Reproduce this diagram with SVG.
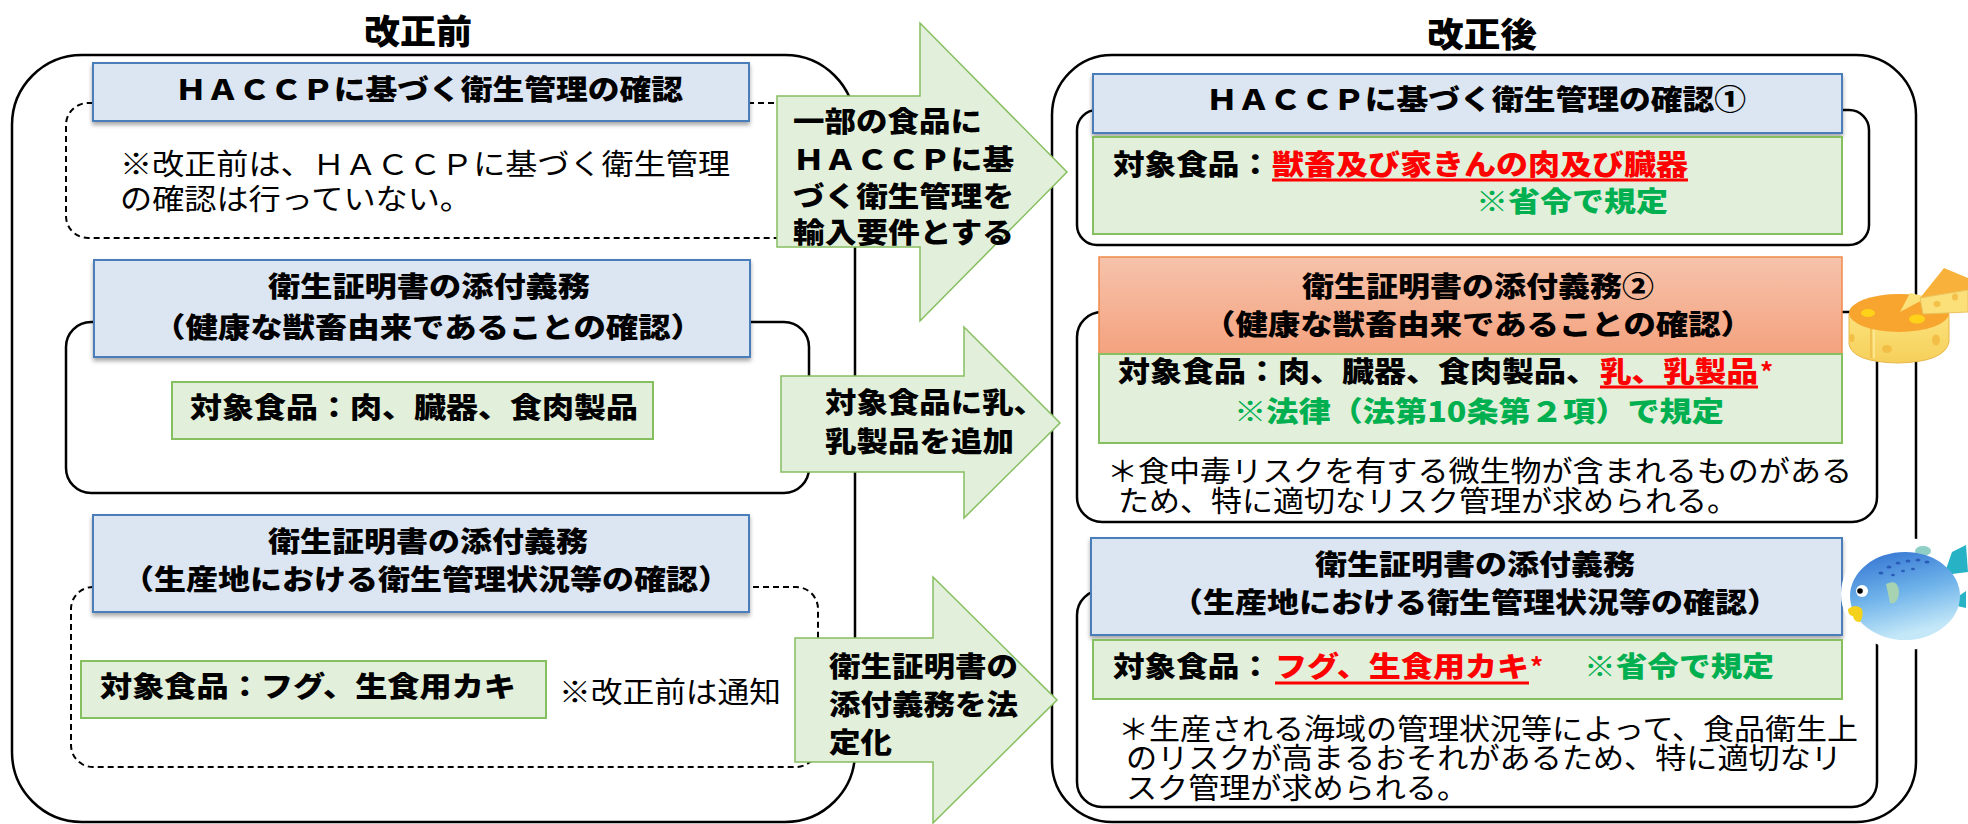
<svg xmlns="http://www.w3.org/2000/svg" width="1968" height="824" viewBox="0 0 1968 824">
  <style>
    text { font-family: "Noto Sans CJK JP", "Noto Sans", sans-serif; fill: #000; }
    .b { font-weight: 900; font-size: 28px; }
    .n { font-weight: 400; font-size: 29px; }
    .title { font-weight: 900; font-size: 34px; }
    .red { fill: #FF0000; }
    .grn { fill: #00B050; }
    .frame { fill: none; stroke: #000; stroke-width: 2.5; }
    .dash { fill: none; stroke: #000; stroke-width: 2; stroke-dasharray: 6 4; }
    .blue { fill: #DCE6F2; stroke: #4A7EBB; stroke-width: 2; filter: url(#shadow); }
    .green { fill: #E2EFDA; stroke: #86BF60; stroke-width: 2; }
    .arrow { fill: #E2EFDA; stroke: #86BF60; stroke-width: 1.5; }
    .uline { stroke: #FF0000; stroke-width: 3; }
  </style>
  <defs>
    <filter id="shadow" x="-5%" y="-20%" width="110%" height="150%">
      <feDropShadow dx="0" dy="3" stdDeviation="2" flood-color="#000" flood-opacity="0.35"/>
    </filter>
    <linearGradient id="orangeFill" x1="0" y1="0" x2="0" y2="1">
      <stop offset="0" stop-color="#F6C3AB"/>
      <stop offset="1" stop-color="#F4A27E"/>
    </linearGradient>
    <linearGradient id="fishBody" x1="0" y1="0" x2="0.3" y2="1">
      <stop offset="0" stop-color="#2F6FD0"/>
      <stop offset="0.55" stop-color="#6FB3EA"/>
      <stop offset="1" stop-color="#C4E8F8"/>
    </linearGradient>
    <linearGradient id="cheeseSide" x1="0" y1="0" x2="0" y2="1">
      <stop offset="0" stop-color="#FBE27C"/>
      <stop offset="1" stop-color="#F6CF5A"/>
    </linearGradient>
  </defs>

  <!-- column headings -->
  <text class="title" x="418" y="44" text-anchor="middle" textLength="108" lengthAdjust="spacingAndGlyphs">改正前</text>
  <text class="title" x="1482" y="47" text-anchor="middle" textLength="110" lengthAdjust="spacingAndGlyphs">改正後</text>

  <!-- ===== before revision ===== -->
  <g id="before-frame">
    <rect class="frame" x="12" y="55" width="843" height="767" rx="70"/>
  </g>

  <g id="before-haccp">
    <rect class="dash" x="66" y="103" width="770" height="135" rx="22"/>
    <rect class="blue" x="93" y="63" width="656" height="58"/>
    <text class="b" x="429" y="100" text-anchor="middle" textLength="508" lengthAdjust="spacingAndGlyphs">ＨＡＣＣＰに基づく衛生管理の確認</text>
    <text class="n" x="120" y="175" textLength="610" lengthAdjust="spacingAndGlyphs">※改正前は、ＨＡＣＣＰに基づく衛生管理</text>
    <text class="n" x="120" y="210" textLength="352" lengthAdjust="spacingAndGlyphs">の確認は行っていない。</text>
  </g>

  <g id="before-health-cert">
    <rect class="frame" x="66" y="322" width="743" height="171" rx="25"/>
    <rect class="blue" x="94" y="260" width="656" height="97"/>
    <text class="b" x="429" y="297" text-anchor="middle" textLength="322" lengthAdjust="spacingAndGlyphs">衛生証明書の添付義務</text>
    <text class="b" x="428" y="338" text-anchor="middle" textLength="550" lengthAdjust="spacingAndGlyphs">（健康な獣畜由来であることの確認）</text>
    <rect class="green" x="172" y="382" width="481" height="57"/>
    <text class="b" x="190" y="418" textLength="448" lengthAdjust="spacingAndGlyphs">対象食品：肉、臓器、食肉製品</text>
  </g>

  <g id="before-sanitary-cert">
    <rect class="dash" x="71" y="587" width="747" height="180" rx="22"/>
    <rect class="blue" x="93" y="515" width="656" height="97"/>
    <text class="b" x="428" y="552" text-anchor="middle" textLength="320" lengthAdjust="spacingAndGlyphs">衛生証明書の添付義務</text>
    <text class="b" x="426" y="590" text-anchor="middle" textLength="608" lengthAdjust="spacingAndGlyphs">（生産地における衛生管理状況等の確認）</text>
    <rect class="green" x="81" y="661" width="465" height="57"/>
    <text class="b" x="100" y="697" textLength="416" lengthAdjust="spacingAndGlyphs">対象食品：フグ、生食用カキ</text>
    <text class="n" x="559" y="703" textLength="222" lengthAdjust="spacingAndGlyphs">※改正前は通知</text>
  </g>

  <!-- ===== after revision ===== -->
  <g id="after-frame">
    <rect class="frame" x="1052" y="55" width="864" height="767" rx="60"/>
  </g>

  <g id="after-haccp">
    <rect class="frame" x="1077" y="110" width="792" height="135" rx="20"/>
    <rect class="blue" x="1093" y="74" width="749" height="59"/>
    <text class="b" x="1476" y="110" text-anchor="middle" textLength="540" lengthAdjust="spacingAndGlyphs">ＨＡＣＣＰに基づく衛生管理の確認①</text>
    <rect class="green" x="1093" y="137" width="749" height="97"/>
    <text class="b" x="1113" y="175" textLength="158" lengthAdjust="spacingAndGlyphs">対象食品：</text>
    <text class="b red" x="1272" y="175" textLength="416" lengthAdjust="spacingAndGlyphs">獣畜及び家きんの肉及び臓器</text>
    <line class="uline" x1="1272" y1="180" x2="1688" y2="180"/>
    <text class="b grn" x="1476" y="212" textLength="192" lengthAdjust="spacingAndGlyphs">※省令で規定</text>
  </g>

  <g id="after-health-cert">
    <rect class="frame" x="1077" y="312" width="800" height="210" rx="25"/>
    <rect x="1099" y="257" width="743" height="97" fill="url(#orangeFill)" stroke="#F08A4B" stroke-width="1.5"/>
    <text class="b" x="1478" y="297" text-anchor="middle" textLength="352" lengthAdjust="spacingAndGlyphs">衛生証明書の添付義務②</text>
    <text class="b" x="1478" y="335" text-anchor="middle" textLength="550" lengthAdjust="spacingAndGlyphs">（健康な獣畜由来であることの確認）</text>
    <rect class="green" x="1099" y="354" width="743" height="89"/>
    <text class="b" x="1118" y="382" textLength="480" lengthAdjust="spacingAndGlyphs">対象食品：肉、臓器、食肉製品、</text>
    <text class="b red" x="1600" y="382" textLength="158" lengthAdjust="spacingAndGlyphs">乳、乳製品</text>
    <line class="uline" x1="1600" y1="387" x2="1758" y2="387"/>
    <text class="red" x="1760" y="382" font-size="26" font-weight="700">*</text>
    <text class="b grn" x="1234" y="422" textLength="490" lengthAdjust="spacingAndGlyphs">※法律（法第10条第２項）で規定</text>
    <text class="n" x="1107" y="482" textLength="745" lengthAdjust="spacingAndGlyphs">＊食中毒リスクを有する微生物が含まれるものがある</text>
    <text class="n" x="1118" y="512" textLength="620" lengthAdjust="spacingAndGlyphs">ため、特に適切なリスク管理が求められる。</text>
  </g>

  <g id="after-sanitary-cert">
    <rect class="frame" x="1077" y="590" width="800" height="217" rx="25"/>
    <rect class="blue" x="1091" y="538" width="751" height="97"/>
    <text class="b" x="1475" y="575" text-anchor="middle" textLength="320" lengthAdjust="spacingAndGlyphs">衛生証明書の添付義務</text>
    <text class="b" x="1475" y="613" text-anchor="middle" textLength="608" lengthAdjust="spacingAndGlyphs">（生産地における衛生管理状況等の確認）</text>
    <rect class="green" x="1093" y="640" width="749" height="59"/>
    <text class="b" x="1113" y="677" textLength="158" lengthAdjust="spacingAndGlyphs">対象食品：</text>
    <text class="b red" x="1275" y="677" textLength="254" lengthAdjust="spacingAndGlyphs">フグ、生食用カキ</text>
    <line class="uline" x1="1275" y1="683" x2="1529" y2="683"/>
    <text class="red" x="1530" y="677" font-size="26" font-weight="700">*</text>
    <text class="b grn" x="1584" y="677" textLength="190" lengthAdjust="spacingAndGlyphs">※省令で規定</text>
    <text class="n" x="1118" y="740" textLength="740" lengthAdjust="spacingAndGlyphs">＊生産される海域の管理状況等によって、食品衛生上</text>
    <text class="n" x="1126" y="769" textLength="716" lengthAdjust="spacingAndGlyphs">のリスクが高まるおそれがあるため、特に適切なリ</text>
    <text class="n" x="1126" y="799" textLength="342" lengthAdjust="spacingAndGlyphs">スク管理が求められる。</text>
  </g>

  <!-- ===== block arrows between the columns ===== -->
  <g id="connectors">
    <g id="arrow-haccp">
      <polygon class="arrow" points="777,96 920,96 920,23 1067,172 920,321 920,247 777,247"/>
      <text class="b" x="793" y="132" textLength="189" lengthAdjust="spacingAndGlyphs">一部の食品に</text>
      <text class="b" x="793" y="170" textLength="221" lengthAdjust="spacingAndGlyphs">ＨＡＣＣＰに基</text>
      <text class="b" x="793" y="207" textLength="221" lengthAdjust="spacingAndGlyphs">づく衛生管理を</text>
      <text class="b" x="793" y="243" textLength="221" lengthAdjust="spacingAndGlyphs">輸入要件とする</text>
    </g>
    <g id="arrow-milk">
      <polygon class="arrow" points="781,376 964,376 964,327 1060,423 964,518 964,472 781,472"/>
      <text class="b" x="825" y="413" textLength="220" lengthAdjust="spacingAndGlyphs">対象食品に乳、</text>
      <text class="b" x="825" y="452" textLength="189" lengthAdjust="spacingAndGlyphs">乳製品を追加</text>
    </g>
    <g id="arrow-statute">
      <polygon class="arrow" points="795,638 933,638 933,577 1057,700 933,823 933,762 795,762"/>
      <text class="b" x="829" y="677" textLength="189" lengthAdjust="spacingAndGlyphs">衛生証明書の</text>
      <text class="b" x="829" y="715" textLength="189" lengthAdjust="spacingAndGlyphs">添付義務を法</text>
      <text class="b" x="829" y="753" textLength="63" lengthAdjust="spacingAndGlyphs">定化</text>
    </g>
  </g>

  <!-- cheese illustration -->
  <g id="cheese">
    <path d="M1849,314 L1849,344 Q1852,362 1898,363 Q1945,362 1949,342 L1949,314 Z" fill="url(#cheeseSide)" stroke="#E9B64A" stroke-width="1"/>
    <path d="M1871,322 L1871,358" stroke="#F0C251" stroke-width="2"/>
    <path d="M1874,322 L1874,358" stroke="#FDEB9C" stroke-width="1.5"/>
    <ellipse cx="1899" cy="313" rx="50" ry="19" fill="#F7A52F"/>
    <polygon points="1900,312 1910,293 1928,297" fill="#FBE17A"/>
    <ellipse cx="1868" cy="313" rx="7" ry="4" fill="#FFD21A"/>
    <ellipse cx="1917" cy="319" rx="8" ry="4.5" fill="#FFD21A"/>
    <ellipse cx="1887" cy="349" rx="5" ry="4" fill="#F3BE45"/>
    <ellipse cx="1936" cy="340" rx="4" ry="5.5" fill="#F3BE45"/>
    <ellipse cx="1852" cy="338" rx="2.5" ry="4" fill="#F3BE45"/>
    <polygon points="1920,298 1944,268 1968,278 1968,290" fill="#F8B23C"/>
    <polygon points="1920,298 1968,290 1968,312 1923,314" fill="#FBE07A" stroke="#E9C25A" stroke-width="1"/>
    <ellipse cx="1937" cy="304" rx="3.5" ry="3" fill="#F3C04A"/>
    <ellipse cx="1955" cy="297" rx="3" ry="3.5" fill="#F3C04A"/>
  </g>

  <!-- pufferfish illustration -->
  <g id="pufferfish">
    <ellipse cx="1905" cy="594" rx="64" ry="56" fill="#FFFFFF"/>
    <polygon points="1944,575 1952,552 1966,545 1968,572" fill="#27B2C6"/>
    <polygon points="1956,598 1966,591 1966,608 1957,606" fill="#27B2C6"/>
    <ellipse cx="1923" cy="551" rx="8" ry="5" fill="#8FCFC6"/>
    <ellipse cx="1905" cy="596" rx="55" ry="44" fill="url(#fishBody)"/>
    <g fill="#2A5DB8">
      <ellipse cx="1881" cy="573" rx="2.5" ry="1.5"/>
      <ellipse cx="1889" cy="567" rx="2.5" ry="1.5"/>
      <ellipse cx="1898" cy="563" rx="2.5" ry="1.5"/>
      <ellipse cx="1908" cy="561" rx="2.5" ry="1.5"/>
      <ellipse cx="1918" cy="560" rx="2.5" ry="1.5"/>
      <ellipse cx="1927" cy="562" rx="2.5" ry="1.5"/>
      <ellipse cx="1893" cy="575" rx="2" ry="1.3"/>
      <ellipse cx="1903" cy="571" rx="2" ry="1.3"/>
      <ellipse cx="1913" cy="569" rx="2" ry="1.3"/>
    </g>
    <path d="M1886,584 Q1898,578 1899,592 Q1898,605 1890,603 Z" fill="#A7D3B2"/>
    <circle cx="1862" cy="591" r="6" fill="#FFFFFF"/>
    <circle cx="1860" cy="591" r="2.8" fill="#000"/>
    <path d="M1848,609 Q1856,603 1862,609 Q1864,616 1860,622 Q1854,622 1853,616 Q1848,616 1848,609 Z" fill="#F4D21C"/>
  </g>
</svg>
